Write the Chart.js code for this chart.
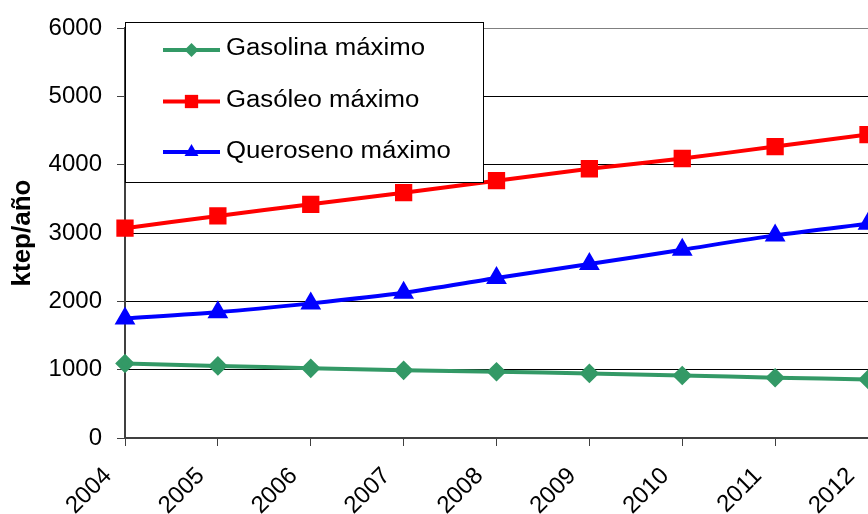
<!DOCTYPE html>
<html>
<head>
<meta charset="utf-8">
<script src="https://cdn.jsdelivr.net/npm/chart.js@4.4.1/dist/chart.umd.min.js"></script>
<style>
  html, body { margin: 0; padding: 0; background: #fff; }
  #wrap { width: 868px; height: 514px; position: relative; }
</style>
</head>
<body>
<div id="wrap"><canvas id="c" width="868" height="514"></canvas></div>
<script>
const years = ['2004', '2005', '2006', '2007', '2008', '2009', '2010', '2011', '2012'];
const gasolinaMax = [1090, 1055, 1020, 990, 970, 945, 915, 882, 857];
const gasoleoMax = [3070, 3250, 3420, 3590, 3765, 3940, 4090, 4265, 4440];
const querosenoMax = [1750, 1840, 1970, 2125, 2340, 2545, 2755, 2965, 3135];
const seriesNames = ['Gasolina máximo', 'Gasóleo máximo', 'Queroseno máximo'];
const yTitle = 'ktep/año';

const FONT = '"Liberation Sans", Arial, sans-serif';

function drawMarker(ctx, style, x, y, r, color) {
  ctx.save();
  ctx.fillStyle = color;
  ctx.beginPath();
  if (style === 'rect') {
    const s = Math.SQRT1_2 * r;
    ctx.rect(x - s, y - s, 2 * s, 2 * s);
  } else if (style === 'rectRot') {
    ctx.moveTo(x, y - r); ctx.lineTo(x + r, y); ctx.lineTo(x, y + r); ctx.lineTo(x - r, y); ctx.closePath();
  } else if (style === 'triangle') {
    ctx.moveTo(x, y - r);
    ctx.lineTo(x + r * Math.sin(Math.PI / 3), y + r / 2);
    ctx.lineTo(x - r * Math.sin(Math.PI / 3), y + r / 2);
    ctx.closePath();
  }
  ctx.fill();
  ctx.restore();
}

const legendBox = {
  id: 'legendBox',
  afterDraw(chart) {
    const ctx = chart.ctx;
    const x0 = 125.5, y0 = 22.5, w = 358, h = 160;
    ctx.save();
    ctx.fillStyle = '#fff';
    ctx.fillRect(x0, y0, w, h);
    ctx.strokeStyle = '#000';
    ctx.lineWidth = 1;
    ctx.strokeRect(x0, y0, w, h);
    const rows = [50, 101.5, 152];
    const baselines = [55, 106.5, 157.5];
    chart.data.datasets.forEach((ds, i) => {
      const y = rows[i];
      ctx.strokeStyle = ds.borderColor;
      ctx.lineWidth = ds.borderWidth;
      ctx.beginPath();
      ctx.moveTo(163, y);
      ctx.lineTo(220, y);
      ctx.stroke();
      drawMarker(ctx, ds.pointStyle, 191.5, y, ds.pointRadius, ds.pointBackgroundColor);
      ctx.save();
      ctx.fillStyle = '#000';
      ctx.font = '23px ' + FONT;
      ctx.textBaseline = 'alphabetic';
      ctx.translate(226, baselines[i]);
      ctx.scale(1.12, 1);
      ctx.fillText(ds.label, 0, 0);
      ctx.restore();
    });
    ctx.restore();
  }
};

new Chart(document.getElementById('c'), {
  type: 'line',
  data: {
    labels: years,
    datasets: [
      { label: seriesNames[0], data: gasolinaMax, borderColor: '#339966', backgroundColor: '#339966',
        pointBackgroundColor: '#339966', pointBorderColor: '#339966', pointStyle: 'rectRot', pointRadius: 7, borderWidth: 4, tension: 0.25 },
      { label: seriesNames[1], data: gasoleoMax, borderColor: '#ff0000', backgroundColor: '#ff0000',
        pointBackgroundColor: '#ff0000', pointBorderColor: '#ff0000', pointStyle: 'rect', pointRadius: 9.4, borderWidth: 4, tension: 0.25 },
      { label: seriesNames[2], data: querosenoMax, borderColor: '#0000ff', backgroundColor: '#0000ff',
        pointBackgroundColor: '#0000ff', pointBorderColor: '#0000ff', pointStyle: 'triangle', pointRadius: 8, borderWidth: 4, tension: 0.25 }
    ]
  },
  options: {
    responsive: false,
    animation: false,
    devicePixelRatio: 1,
    layout: { autoPadding: false, padding: { top: 28, right: 0, left: 0, bottom: 0 } },
    plugins: { legend: { display: false }, tooltip: { enabled: false }, title: { display: false } },
    elements: { point: { borderWidth: 0 } },
    scales: {
      x: {
        offset: false,
        grid: { drawOnChartArea: false, drawTicks: true, tickLength: 8, color: '#404040', tickColor: '#404040', lineWidth: 1 },
        border: { color: '#404040', width: 2 },
        ticks: { color: '#000', font: { family: FONT, size: 24 }, minRotation: 45, maxRotation: 45, padding: 16, labelOffset: -17, autoSkip: false },
        afterFit(scale) { scale.height = 76; scale.paddingRight = 0; scale.paddingLeft = 0; }
      },
      y: {
        min: 0, max: 6000,
        ticks: { stepSize: 1000, color: '#000', font: { family: FONT, size: 24 }, padding: 15,
          callback: (v) => String(v) },
        grid: { drawTicks: true, tickLength: 8, tickColor: '#404040',
          color: (c) => (c.tick && c.tick.value === 6000) ? '#808080' : '#000', lineWidth: 1 },
        border: { color: '#404040', width: 2 },
        title: { display: true, text: yTitle, color: '#000', font: { family: FONT, size: 26, weight: 'bold' }, padding: { top: 7, bottom: 0 } },
        afterFit(scale) { scale.width = 125; scale.paddingTop = 0; scale.paddingBottom = 0; }
      }
    }
  },
  plugins: [legendBox]
});
</script>
</body>
</html>
